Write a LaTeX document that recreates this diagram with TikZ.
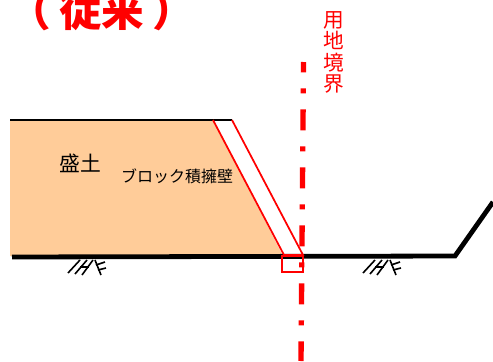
\documentclass[tikz,border=0pt]{standalone}
\usepackage{fontspec}
\setmainfont{Noto Sans CJK JP}
\tikzset{
	redline/.style={draw=red, line width=1.3pt},
	groundline/.style={draw=black, line width=3.6pt},
	hatchline/.style={draw=black, line width=1.2pt},
	borderline/.style={draw=red, line width=4pt, dash pattern=on 15.75pt off 12pt on 3.75pt off 12pt, dash phase=8pt},
	hatchmark/.pic={
		\draw[hatchline] (0,14) -- (12,1);
		\draw[hatchline] (7,15) -- (19,1);
		\draw[hatchline] (14,16) -- (25,1);
		\draw[hatchline] (12,8) -- (21,8);
		\draw[hatchline] (27,1) -- (33,16);
		\draw[hatchline] (28,6) -- (37,3);
		\draw[hatchline] (30,11) -- (38,9);
	}
}

\begin{document}
\begin{tikzpicture}[x=0.75pt, y=-0.75pt]
	\useasboundingbox (0,0) rectangle (493,361);
	% fill and top edge
	\fill[fill={rgb,255:red,255;green,204;blue,153}] (10,121) -- (214,121) -- (283,256) -- (10,256) -- cycle;
	\draw[black, line width=1.2pt] (10,120) -- (232,120);
	% ground
	\draw[groundline] (12,257) -- (455,256) -- (493,202);
	\pic at (68,259) {hatchmark};
	\pic at (363,259) {hatchmark};
	% wall
	\draw[redline] (213,120) -- (284,255) -- (303,255) -- (232,120);
	\draw[redline] (282,256) rectangle (303,272);
	% boundary
	\coordinate (bndtop) at (303.5,62);
	\coordinate (bndbot) at (301,361);
	\draw[borderline] (bndtop) -- (bndbot);
	% labels
	\node[font=\fontsize{15.6}{16}\selectfont] (mori) at (80,163) {盛土};
	\node[font=\fontsize{12}{12}\selectfont] (wall) at (177,176) {ブロック積擁壁};
	\node[red, font=\fontsize{15.5}{15.9}\selectfont, align=center] (bnd) at (334,52.5) {用\\地\\境\\界};
	\node[red, font=\fontsize{32}{32}\selectfont\bfseries] (title) at (102,10) {（\hspace{6pt}従来\hspace{6pt}）};
\end{tikzpicture}
\end{document}
